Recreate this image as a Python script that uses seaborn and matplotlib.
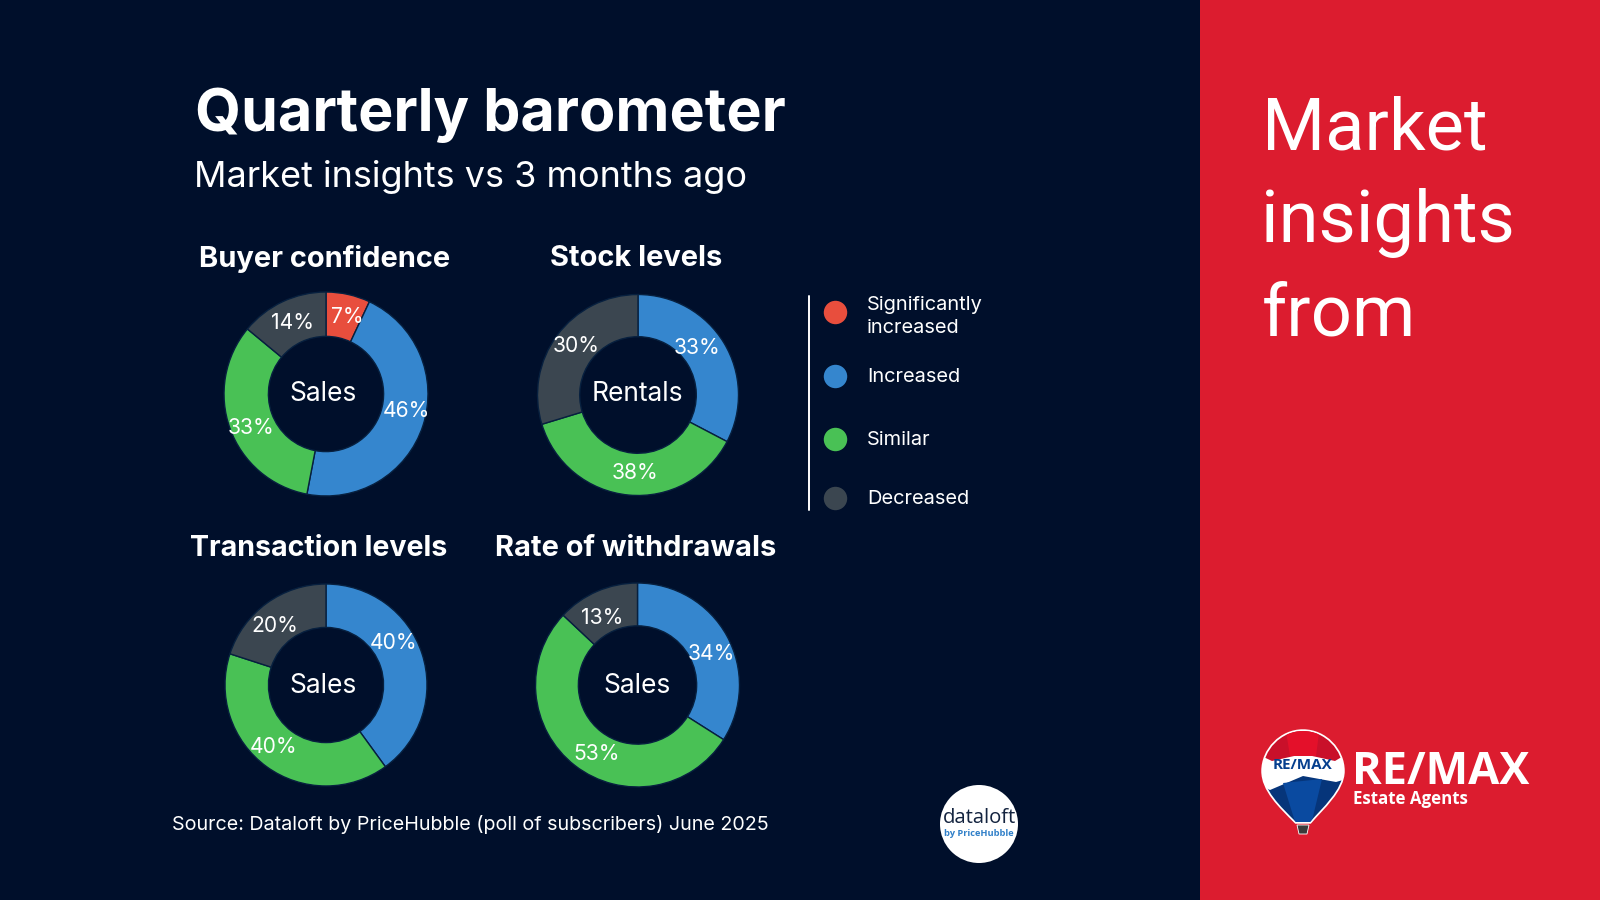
import numpy as np
import matplotlib
matplotlib.use("Agg")
import matplotlib.pyplot as plt
import seaborn as sns
from matplotlib.patches import Circle, PathPatch, Polygon, Rectangle
from matplotlib.path import Path

chart_titles = ["Buyer confidence", "Stock levels", "Transaction levels", "Rate of withdrawals"]
centre_labels = ["Sales", "Rentals", "Sales", "Sales"]
legend_labels = ["Significantly\nincreased", "Increased", "Similar", "Decreased"]
buyer_values = [7, 46, 33, 14]
stock_values = [0, 33, 38, 30]
transaction_values = [0, 40, 40, 20]
withdrawal_values = [0, 34, 53, 13]
series_values = [buyer_values, stock_values, transaction_values, withdrawal_values]

BG = "#000F2B"
RED = "#DC1C2F"
palette = ["#E84E3D", "#3586CE", "#49C155", "#3B4650"]
sns.set_theme(style="dark", palette=palette, rc={"figure.facecolor": BG, "axes.facecolor": BG})
plt.rcParams["font.family"] = ["Inter", "DejaVu Sans"]
colors = sns.color_palette(palette)

W, H = 1600, 900
fig = plt.figure(figsize=(16, 9), dpi=100, facecolor=BG)
bg = fig.add_axes([0, 0, 1, 1])
bg.set_xlim(0, W); bg.set_ylim(H, 0); bg.axis("off")
bg.add_patch(Rectangle((1200, 0), 400, 900, color=RED, lw=0))

def t(x, y, s, size, weight="normal", ha="left", color="white", family=None, **kw):
    return bg.text(x, y, s, fontsize=size, fontweight=weight, ha=ha, va="center",
                   color=color, family=family if family else ["Inter", "DejaVu Sans"], **kw)

t(195, 115, "Quarterly barometer", 42.6, "bold")
t(194.5, 177, "Market insights vs 3 months ago", 25.95)
t(172.5, 825, "Source: Dataloft by PriceHubble (poll of subscribers) June 2025", 14.2)

heading_x = [325, 636, 318.5, 636]
heading_y = [259, 259, 549, 549]
heading_sizes = [20.9, 20.9, 20.6, 20.9]
for tt, x, y, sz in zip(chart_titles, heading_x, heading_y, heading_sizes):
    t(x, y, tt, sz, "bold", ha="center")

centres = [(326, 394), (638, 395), (326, 685), (637.5, 685)]
radii = [103, 101.5, 102, 103]
hole_widths = [0.435, 0.42, 0.43, 0.42]
centre_x = [-0.03, -0.01, -0.03, 0.0]
centre_y = [0.0, 0.01, -0.01, -0.01]
nudges = [
    [(4, -2), (4, 8), (1, -7), (1, -2)],
    [(0, 0), (-9, 6), (4, 1), (2, 2)],
    [(0, 0), (-8, 17), (-6, 3), (-4, -6)],
    [(0, 0), (3, -8), (9, -5), (-3, -7)],
]
for vals, lab, (cx, cy), nd, radius, hw, lx, lyy in zip(series_values, centre_labels, centres, nudges, radii, hole_widths, centre_x, centre_y):
    ax = fig.add_axes([(cx - radius) / W, 1 - (cy + radius) / H, 2 * radius / W, 2 * radius / H])
    wedges, _ = ax.pie(vals, colors=colors, startangle=90, counterclock=False, radius=1,
                       wedgeprops=dict(width=hw, edgecolor="#07203F", linewidth=1.0))
    ax.set_xlim(-1.01, 1.01); ax.set_ylim(-1.01, 1.01); ax.axis("off")
    ax.patch.set_alpha(0)
    for w, v, n in zip(wedges, vals, nd):
        if v == 0:
            continue
        a = np.deg2rad((w.theta1 + w.theta2) / 2)
        ax.annotate(f"{v}%", (0.79 * np.cos(a), 0.79 * np.sin(a)), xytext=n, textcoords="offset pixels",
                    ha="center", va="center", color="white", fontsize=15.2)
    ax.text(lx, lyy, lab, ha="center", va="center", color="white", fontsize=19)

bg.plot([808.5, 808.5], [296, 510], color="white", lw=1.4)
ly = [312, 376, 439, 498]
for lab, c, y in zip(legend_labels, colors, ly):
    bg.scatter([835], [y], s=285, color=c, lw=0)
    t(867, y + 4.5 if "\n" in lab else y + 1, lab, 14.4, linespacing=1.42)

# Red panel
for word, y in zip(["Market", "insights", "from"], [130, 223, 316]):
    t(1261.5, y, word, 52, family="Roboto")

# dataloft badge
bg.add_patch(Circle((979, 824), 39, color="white", lw=0))
t(979, 818, "dataloft", 14.6, ha="center", color="#13233F", family="Open Sans")
t(979, 834, "by PriceHubble", 6.7, "bold", ha="center", color="#2F7FC8", family="Open Sans")

# RE/MAX logo
verts = [(1303, 731), (1325, 731), (1343, 750), (1343, 771), (1343, 790), (1322, 808), (1310, 822),
         (1296, 822), (1280, 806), (1263, 790), (1263, 771), (1263, 750), (1281, 731), (1303, 731)]
codes = [Path.MOVETO] + [Path.CURVE4] * 6 + [Path.LINETO] + [Path.CURVE4] * 6
balloon = Path(verts, codes)
bg.add_patch(PathPatch(balloon, fc="white", ec="white", lw=2.5))
clip = PathPatch(balloon, transform=bg.transData, fc="none", ec="none")
bg.add_patch(clip)
shapes = [
    ([(1255, 725), (1350, 725), (1350, 752), (1335, 761), (1303, 754), (1272, 761), (1255, 753)], "#C9102A"),
    ([(1285, 725), (1320, 725), (1316, 756), (1290, 756)], "#E4102A"),
    ([(1255, 783), (1270, 790), (1303, 776), (1336, 782), (1350, 778), (1350, 830), (1255, 830)], "#06357A"),
    ([(1283, 783), (1322, 779), (1311, 825), (1296, 825)], "#0A4AA0"),
]
for pts, col in shapes:
    p = Polygon(pts, fc=col, lw=0)
    bg.add_patch(p)
    p.set_clip_path(clip)
bg.add_patch(Polygon([(1297, 825), (1309, 825), (1307, 834), (1299, 834)], fc="#3A3A3A", ec="white", lw=0.6))
t(1303, 765, "RE/MAX", 11, "bold", ha="center", color="#063F8E", family="Open Sans")
t(1352, 772, "RE/MAX", 32.5, "bold", family="Open Sans")
t(1353, 799.5, "Estate Agents", 12.2, "bold", family="Open Sans")

fig.savefig("out.png", dpi=100, facecolor=BG)
